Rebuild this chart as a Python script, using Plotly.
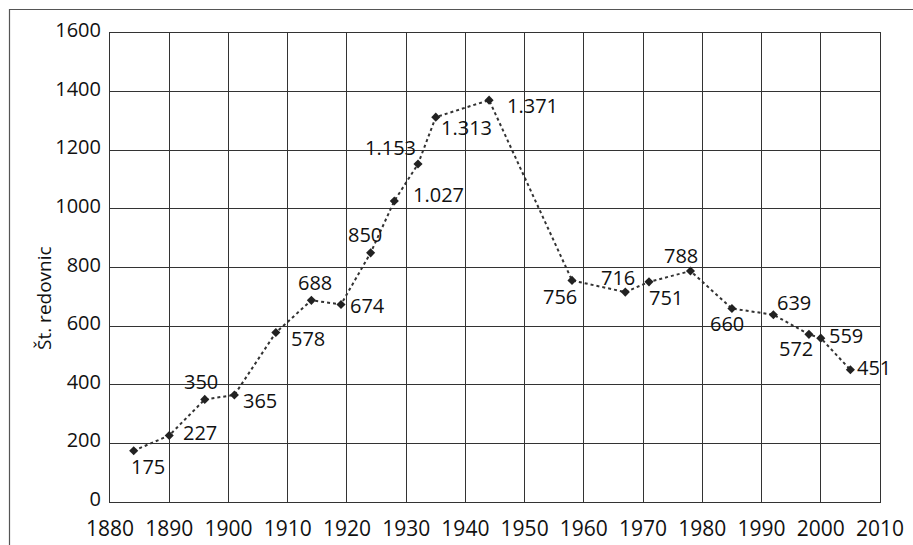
import plotly.graph_objects as go

years = [1884, 1890, 1896, 1901, 1908, 1914, 1919, 1924, 1928, 1932, 1935, 1944,
         1958, 1967, 1971, 1978, 1985, 1992, 1998, 2000, 2005]
values = [175, 227, 350, 365, 578, 688, 674, 850, 1027, 1153, 1313, 1371,
          756, 716, 751, 788, 660, 639, 572, 559, 451]
x_ticks = list(range(1880, 2011, 10))
y_ticks = list(range(0, 1601, 200))
y_title = "Št. redovnic"

# label offsets from each point (pixels, x right / y down)
label_dx = [14, 31, -4, 26, 32, 4, 26, -6, 44, -28, 31, 43, -12, -7, 17, -9, -5, 21, -13, 25, 24]
label_dy = [16, -3, -18, 5, 6, -18, 1, -18, -6, -17, 10, 5, 16, -15, 16, -16, 15, -12, 14, -3, -2]

labels = [f"{v:,}".replace(",", ".") for v in values]

FONT = "Open Sans"
W, H = 913, 545
L, R, T, B = 110, 33, 33, 43
pw, ph = W - L - R, H - T - B

fig = go.Figure()
fig.add_trace(go.Scatter(
    x=years, y=values, mode="lines+markers",
    line=dict(color="#333", width=2, dash="3px,3px"),
    marker=dict(symbol="diamond", size=7, color="#222"),
    cliponaxis=False, hoverinfo="x+y",
))

annotations = [dict(x=xv, y=yv, text=t, showarrow=False, xanchor="center", yanchor="middle",
                    xshift=dx, yshift=-dy,
                    font=dict(family=FONT, size=20, color="#111"))
               for xv, yv, t, dx, dy in zip(years, values, labels, label_dx, label_dy)]
annotations.append(dict(text=y_title, textangle=-90, showarrow=False,
                        xref="paper", yref="paper",
                        x=(44 - L) / pw, y=(H - B - 298) / ph,
                        xanchor="center", yanchor="middle",
                        font=dict(family=FONT, size=19, color="#111")))

fig.update_layout(
    width=W, height=H,
    margin=dict(l=L, r=R, t=T, b=B, autoexpand=False),
    paper_bgcolor="white", plot_bgcolor="white",
    showlegend=False,
    font=dict(family=FONT, size=19, color="#111"),
    xaxis=dict(range=[1880, 2010], tickvals=x_ticks, showgrid=True,
               gridcolor="#333", gridwidth=1, zeroline=False,
               showline=True, linecolor="#333", linewidth=1, mirror=True,
               ticks="", ticklabelstandoff=8, automargin=False,
               tickfont=dict(family=FONT, size=21, color="#111")),
    yaxis=dict(range=[0, 1600], tickvals=y_ticks, showgrid=True,
               gridcolor="#333", gridwidth=1, zeroline=False,
               showline=True, linecolor="#333", linewidth=1, mirror=True,
               ticks="", ticklabelstandoff=4, ticklabelshift=-3, automargin=False,
               tickfont=dict(family=FONT, size=20, color="#111")),
    annotations=annotations,
    shapes=[dict(type="rect", xref="paper", yref="paper",
                 x0=(9.5 - L) / pw, x1=(W + 20 - L) / pw,
                 y0=-(B + 20) / ph, y1=(H - B - 9.5) / ph,
                 line=dict(color="#555", width=1.2), layer="below")],
)

fig.write_html("out.html", config={"displayModeBar": False},
               post_script="document.body.style.margin='0';")
